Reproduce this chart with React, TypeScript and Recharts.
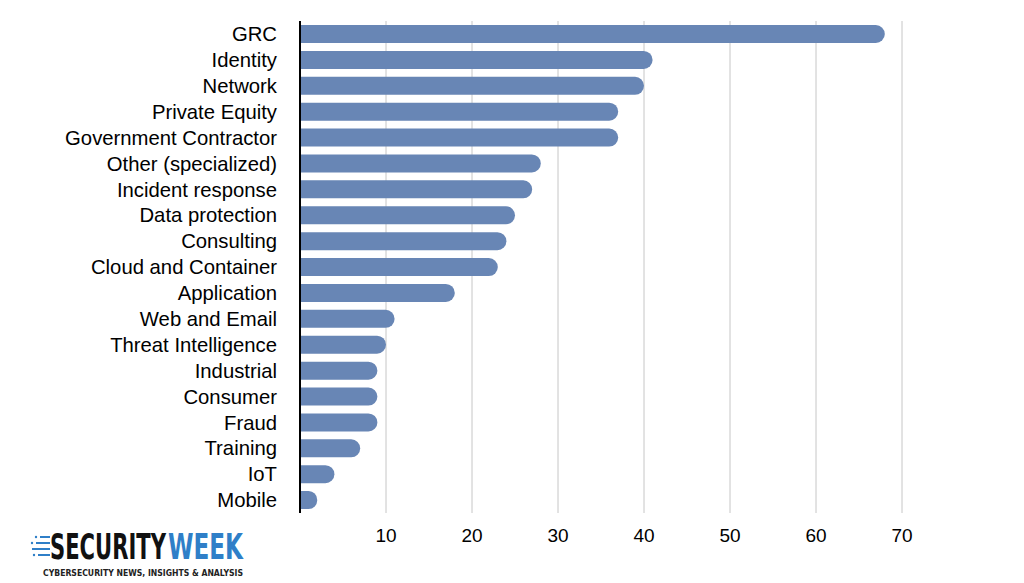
import { Bar, BarChart, CartesianGrid, XAxis, YAxis } from "recharts";

const categories = [
  "GRC",
  "Identity",
  "Network",
  "Private Equity",
  "Government Contractor",
  "Other (specialized)",
  "Incident response",
  "Data protection",
  "Consulting",
  "Cloud and Container",
  "Application",
  "Web and Email",
  "Threat Intelligence",
  "Industrial ",
  "Consumer",
  "Fraud",
  "Training",
  "IoT",
  "Mobile",
];

const counts = [68, 41, 40, 37, 37, 28, 27, 25, 24, 23, 18, 11, 10, 9, 9, 9, 7, 4, 2];

const xTicks = [10, 20, 30, 40, 50, 60, 70];

const chartData = categories.map((name, i) => ({ name, value: counts[i] }));

const FONT = '"Liberation Sans", Arial, Helvetica, sans-serif';
const LOGO_FONT = '"DejaVu Sans Condensed", "DejaVu Sans", sans-serif';

function Logo() {
  return (
    <svg
      width={240}
      height={54}
      style={{ position: "absolute", left: 30, top: 526 }}
    >
      {/* speed lines in front of the S */}
      <g fill="#2f7fc8">
        <rect x={10} y={10} width={10} height={2} />
        <rect x={6} y={16} width={14} height={2} />
        <rect x={2} y={22} width={18} height={2} />
        <rect x={8} y={28} width={12} height={2} />
        <circle cx={6} cy={11} r={1.2} />
        <circle cx={2} cy={17} r={1.2} />
        <circle cx={4} cy={29} r={1.2} />
      </g>
      <g transform="translate(20, 33) scale(1, 1.5)">
        <text
          x={0}
          y={0}
          fontFamily={LOGO_FONT}
          fontWeight={700}
          fontSize={24}
          textLength={116}
          lengthAdjust="spacingAndGlyphs"
          fill="#111"
        >
          SECURITY
        </text>
        <text
          x={118}
          y={0}
          fontFamily={LOGO_FONT}
          fontWeight={700}
          fontSize={24}
          textLength={75}
          lengthAdjust="spacingAndGlyphs"
          fill="#2f7fc8"
        >
          WEEK
        </text>
      </g>
      <text
        x={13}
        y={49.5}
        fontFamily={LOGO_FONT}
        fontWeight={700}
        fontSize={8}
        textLength={200}
        lengthAdjust="spacingAndGlyphs"
        fill="#222"
      >
        CYBERSECURITY NEWS, INSIGHTS &amp; ANALYSIS
      </text>
    </svg>
  );
}

export default function App() {
  return (
    <div
      style={{
        position: "absolute",
        left: 0,
        top: 0,
        width: 1024,
        height: 583,
        background: "#fff",
        fontFamily: FONT,
      }}
    >
      <BarChart
        width={1024}
        height={583}
        data={chartData}
        layout="vertical"
        margin={{ top: 21, right: 122, left: 10, bottom: 40 }}
        barCategoryGap={0}
      >
        <CartesianGrid horizontal={false} stroke="#c6c6c6" strokeWidth={1} />
        <XAxis
          type="number"
          domain={[0, 70]}
          ticks={xTicks}
          axisLine={false}
          tickLine={false}
          height={30}
          tickMargin={10}
          tick={{ fontSize: 19, fill: "#000", fontFamily: FONT }}
        />
        <YAxis
          type="category"
          dataKey="name"
          width={290}
          interval={0}
          tickLine={false}
          tickMargin={17}
          axisLine={{ stroke: "#000", strokeWidth: 2 }}
          tick={{ fontSize: 20.3, fill: "#000", fontFamily: FONT }}
        />
        <Bar
          dataKey="value"
          fill="#6886b5"
          barSize={18}
          radius={[0, 9, 9, 0]}
          isAnimationActive={false}
        />
      </BarChart>
      <Logo />
    </div>
  );
}
